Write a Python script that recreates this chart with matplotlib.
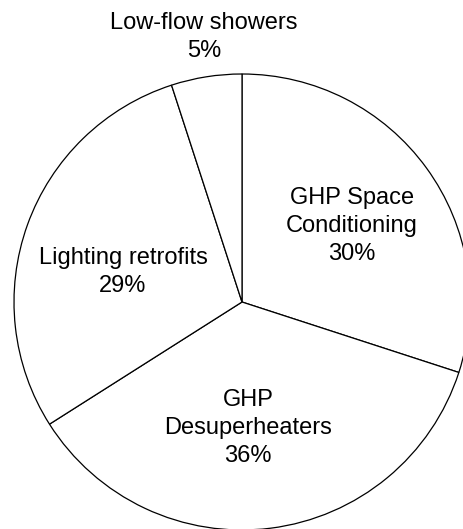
import matplotlib
matplotlib.use("Agg")
import matplotlib.pyplot as plt

# data
categories = ["GHP Space\nConditioning", "GHP\nDesuperheaters",
              "Lighting retrofits", "Low-flow showers"]
shares = [30, 36, 29, 5]

# label placement in pixels (x, y from top)
label_pos = [(352, 226), (248, 428), (123, 272), (204, 37)]

W, H = 463, 529
plt.rcParams['font.family'] = ['Liberation Sans', 'DejaVu Sans']

fig = plt.figure(figsize=(W / 100, H / 100), dpi=100)
ax = fig.add_axes([0, 0, 1, 1])

ax.pie(shares, center=(242, H - 302), radius=228, startangle=90,
       counterclock=False, colors=["white"] * len(shares),
       wedgeprops=dict(edgecolor="black", linewidth=0.9),
       frame=True)
ax.set_xlim(0, W)
ax.set_ylim(0, H)
ax.set_aspect("equal")
ax.axis("off")

for cat, val, (x, y) in zip(categories, shares, label_pos):
    ax.text(x, H - y, "{}\n{}%".format(cat, val), ha="center", va="center",
            fontsize=17, linespacing=1.33, color="black")

fig.savefig("out.png", dpi=100, facecolor="white")
